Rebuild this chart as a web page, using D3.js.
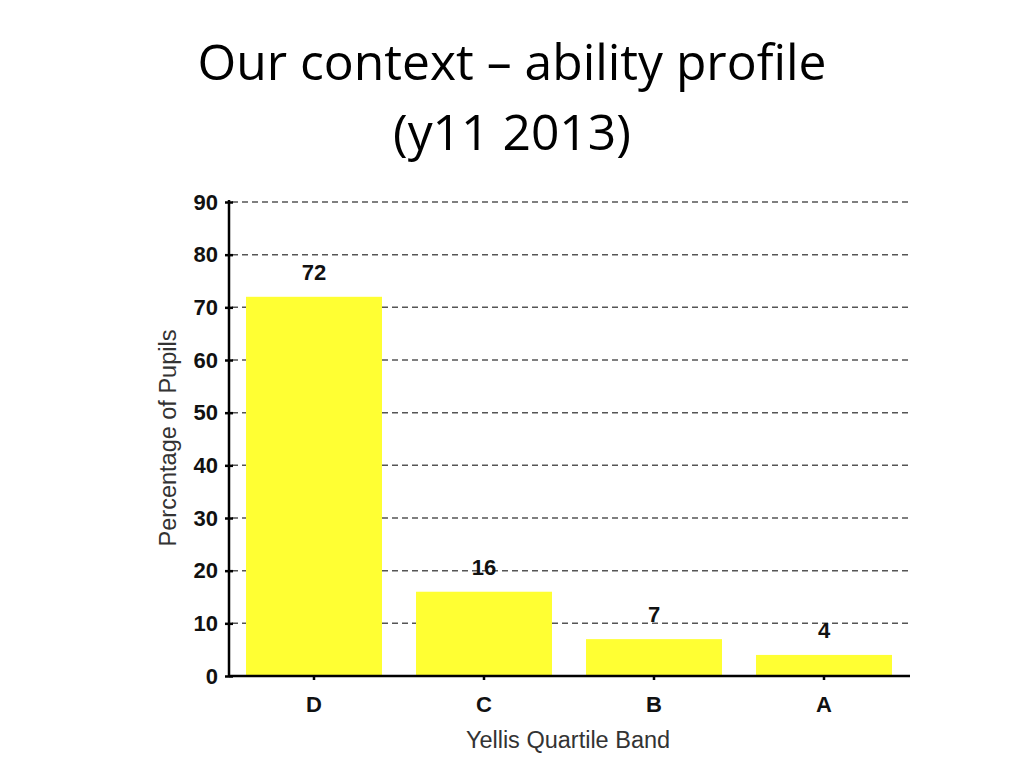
<!DOCTYPE html>
<html><head><meta charset="utf-8">
<script src="https://cdn.jsdelivr.net/npm/d3@7"></script>
<style>body{margin:0;background:#fff}</style>
</head><body>
<svg id="c" width="1024" height="768"></svg>
<script>
const categories = ["D","C","B","A"];
const values = [72,16,7,4];
const yTicks = [0,10,20,30,40,50,60,70,80,90];

const svg = d3.select("#c");
const x = d3.scaleBand().domain(categories).range([229,909]).paddingInner(0.2).paddingOuter(0.1);
const y = d3.scaleLinear().domain([0,90]).range([676,202]);
const F = "Liberation Sans, Arial, sans-serif";

// title
const t = svg.append("text").attr("text-anchor","middle").attr("font-family","Open Sans, Lato, sans-serif").attr("fill","#000");
const l1 = t.append("tspan").attr("x",512).attr("y",80).text("Our context \u2013 ability profile");
const l2 = t.append("tspan").attr("x",512).attr("y",150).text("(y11 2013)");
t.attr("font-size",46);
const w = l1.node().getComputedTextLength();
t.attr("font-size",46*629/w);

// gridlines
svg.append("g").selectAll("line").data(yTicks.filter(d=>d>0)).join("line")
  .attr("x1",232).attr("x2",909).attr("y1",d=>y(d)).attr("y2",d=>y(d))
  .attr("stroke","#555").attr("stroke-width",1.5).attr("stroke-dasharray","6,4");

// bars
svg.append("g").selectAll("rect").data(values).join("rect")
  .attr("x",(d,i)=>x(categories[i])).attr("width",x.bandwidth())
  .attr("y",d=>y(d)).attr("height",d=>y(0)-y(d)).attr("fill","#ffff33");

// value labels
svg.append("g").selectAll("text").data(values).join("text")
  .attr("x",(d,i)=>x(categories[i])+x.bandwidth()/2).attr("y",d=>y(d)-17)
  .attr("text-anchor","middle").attr("font-family",F)
  .attr("font-weight","bold").attr("font-size",22).attr("fill","#111").text(d=>d);

// y axis
const ya = svg.append("g").attr("transform","translate(229,0)")
  .call(d3.axisLeft(y).tickValues(yTicks).tickSize(5).tickPadding(6));
ya.select(".domain").attr("stroke","#000").attr("stroke-width",2.5).attr("d","M0,676V200");
ya.selectAll(".tick line").attr("stroke","#000").attr("stroke-width",2.5).attr("x1",4).attr("x2",-4);
ya.selectAll(".tick text").attr("font-family",F)
  .attr("font-weight","bold").attr("font-size",22).attr("fill","#111").attr("x",-11);

// x axis
const xa = svg.append("g").attr("transform","translate(0,676)")
  .call(d3.axisBottom(x).tickSize(4).tickPadding(16));
xa.select(".domain").attr("stroke","#000").attr("stroke-width",2.5).attr("d","M229,0H910");
xa.selectAll(".tick line").attr("stroke","#000").attr("stroke-width",2.5);
xa.selectAll(".tick text").attr("font-family",F)
  .attr("font-weight","bold").attr("font-size",22).attr("fill","#111");

// axis titles
svg.append("text").attr("transform","translate(176,438) rotate(-90)").attr("text-anchor","middle")
  .attr("font-family",F).attr("font-size",23.5).attr("fill","#333")
  .text("Percentage of Pupils");
svg.append("text").attr("x",568).attr("y",748).attr("text-anchor","middle")
  .attr("font-family",F).attr("font-size",23.5).attr("fill","#333")
  .text("Yellis Quartile Band");
</script>
</body></html>
